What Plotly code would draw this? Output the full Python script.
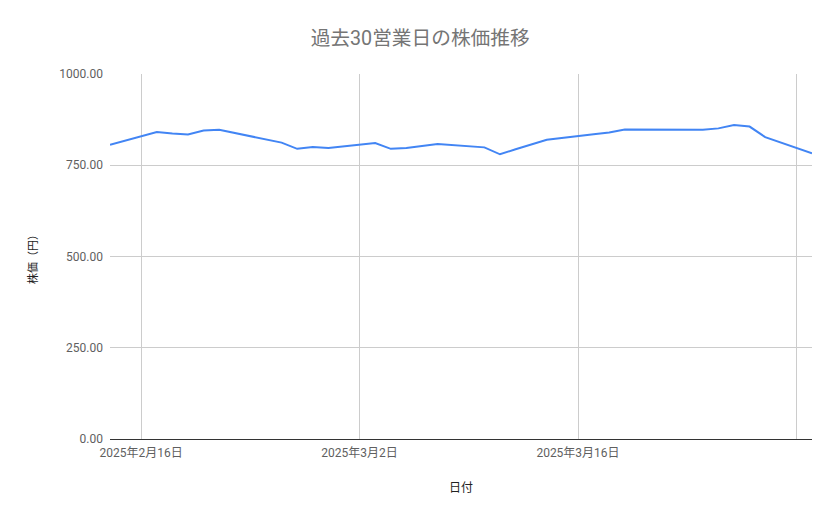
import plotly.graph_objects as go

# 営業日と終値（円）
dates = [
    "2025-02-14", "2025-02-17", "2025-02-18", "2025-02-19", "2025-02-20",
    "2025-02-21", "2025-02-25", "2025-02-26", "2025-02-27", "2025-02-28",
    "2025-03-03", "2025-03-04", "2025-03-05", "2025-03-06", "2025-03-07",
    "2025-03-10", "2025-03-11", "2025-03-12", "2025-03-13", "2025-03-14",
    "2025-03-17", "2025-03-18", "2025-03-19", "2025-03-21", "2025-03-24",
    "2025-03-25", "2025-03-26", "2025-03-27", "2025-03-28", "2025-03-31",
]
prices = [
    806, 841, 837, 834, 845,
    847, 812, 795, 800, 797,
    811, 795, 797, 802, 808,
    799, 780, 794, 807, 820,
    835, 840, 848, 848, 847,
    851, 860, 856, 827, 783,
]

tick_vals = ["2025-02-16", "2025-03-02", "2025-03-16", "2025-03-30"]
tick_text = ["2025年2月16日", "2025年3月2日", "2025年3月16日", ""]

font_family = "Roboto, 'Noto Sans CJK JP', sans-serif"

fig = go.Figure()
fig.add_trace(go.Scatter(
    x=dates,
    y=prices,
    mode="lines",
    line=dict(color="#4285F4", width=2),
    name="株価",
))

# page body has an 8px margin, so the figure is a bit smaller than the window
fig.update_layout(
    width=831, height=511,
    paper_bgcolor="white",
    plot_bgcolor="white",
    showlegend=False,
    margin=dict(l=102, r=27, t=66, b=80),
    font=dict(family=font_family, color="#444444"),
    title=dict(
        text="過去30営業日の株価推移",
        x=0.496, xref="container", xanchor="center",
        y=0.941, yref="container", yanchor="middle",
        font=dict(size=19.7, color="#757575", family=font_family),
    ),
    xaxis=dict(
        range=["2025-02-14", "2025-03-31"],
        tickvals=tick_vals,
        ticktext=tick_text,
        tickfont=dict(size=12, color="#5f5f5f"),
        ticklabelstandoff=3,
        showgrid=True,
        gridcolor="#cccccc",
        showline=True,
        linecolor="#333333",
        linewidth=1,
        ticks="",
        title=dict(text="日付", font=dict(size=12, color="#222222"), standoff=24),
    ),
    yaxis=dict(
        range=[0, 1000],
        tickvals=[0, 250, 500, 750, 1000],
        tickformat=".2f",
        tickfont=dict(size=12, color="#5f5f5f"),
        ticklabelstandoff=6,
        showgrid=True,
        gridcolor="#cccccc",
        zeroline=False,
        ticks="",
        title=dict(text="株価（円）", font=dict(size=11, color="#222222"), standoff=19),
    ),
)

fig.write_html("out.html")
